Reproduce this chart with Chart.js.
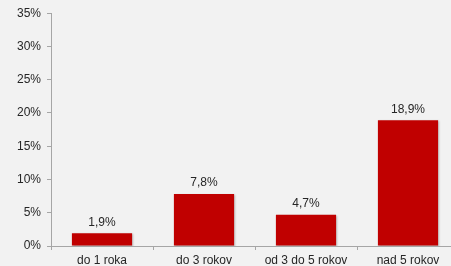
<!DOCTYPE html>
<html>
<head>
<meta charset="utf-8">
<script src="https://cdn.jsdelivr.net/npm/chart.js"></script>
<style>
  html, body { margin: 0; padding: 0; background: #f2f2f2; overflow: hidden; }
  #wrap { position: relative; width: 460px; height: 266px; }
</style>
</head>
<body>
<div id="wrap"><canvas id="graf"></canvas></div>
<script>
// data
const kategorie = ['do 1 roka', 'do 3 rokov', 'od 3 do 5 rokov', 'nad 5 rokov'];
const hodnoty = [1.9, 7.8, 4.7, 18.9];
const popisky = ['1,9%', '7,8%', '4,7%', '18,9%'];

const pismo = '"Liberation Sans", Arial, sans-serif';

// popisky nad stlpcami + jemny tien stlpcov
const popiskyPlugin = {
    id: 'popisky',
    beforeDatasetsDraw(chart) {
        const ctx = chart.ctx;
        ctx.save();
        ctx.shadowColor = 'rgba(0,0,0,0.25)';
        ctx.shadowBlur = 2;
        ctx.shadowOffsetX = 1;
        ctx.shadowOffsetY = 1;
    },
    afterDatasetsDraw(chart) {
        const ctx = chart.ctx;
        ctx.restore();
        ctx.save();
        ctx.font = '12px ' + pismo;
        ctx.fillStyle = '#262626';
        ctx.textAlign = 'center';
        ctx.textBaseline = 'bottom';
        chart.getDatasetMeta(0).data.forEach((bar, i) => {
            ctx.fillText(popisky[i], bar.x, bar.y - 5);
        });
        ctx.restore();
    }
};

const canvas = document.getElementById('graf');
new Chart(canvas.getContext('2d'), {
    type: 'bar',
    data: {
        labels: kategorie,
        datasets: [{
            data: hodnoty,
            backgroundColor: '#c00000',
            borderWidth: 0,
            barPercentage: 0.59,
            categoryPercentage: 1.0
        }]
    },
    options: {
        responsive: true,
        maintainAspectRatio: false,
        animation: false,
        layout: { padding: { top: 8, right: 1, left: 0, bottom: 0 } },
        plugins: { legend: { display: false }, tooltip: { enabled: false } },
        scales: {
            x: {
                grid: { display: true, drawOnChartArea: false, drawTicks: true, tickLength: 4, color: '#a6a6a6', offset: true },
                border: { display: true, color: '#a6a6a6' },
                ticks: { color: '#262626', font: { family: pismo, size: 12 }, padding: 3, maxRotation: 0 },
                afterFit(scale) { scale.height = 20; }
            },
            y: {
                min: 0,
                max: 35,
                grid: { display: true, drawOnChartArea: false, drawTicks: true, tickLength: 4, color: '#a6a6a6' },
                border: { display: true, color: '#a6a6a6' },
                ticks: {
                    stepSize: 5,
                    color: '#262626',
                    padding: 6,
                    font: { family: pismo, size: 12 },
                    callback: v => v + '%'
                },
                afterFit(scale) { scale.width = 51; }
            }
        }
    },
    plugins: [popiskyPlugin]
});
</script>
</body>
</html>
